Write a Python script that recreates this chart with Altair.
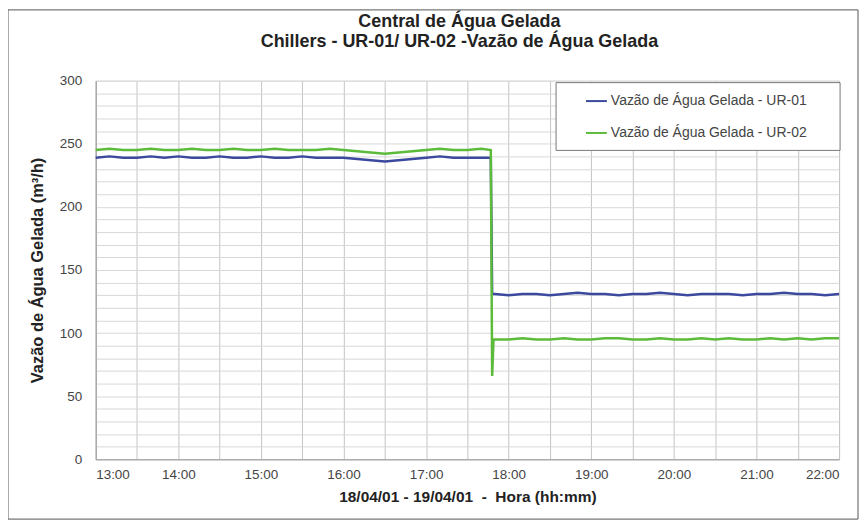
import altair as alt
import pandas as pd

# ---- data ----
times_before = ["13:00","13:10","13:20","13:30","13:40","13:50","14:00","14:10","14:20","14:30",
                "14:40","14:50","15:00","15:10","15:20","15:30","15:40","15:50","16:00","16:10",
                "16:20","16:30","16:40","16:50","17:00","17:10","17:20","17:30","17:40","17:47"]
ur01_before = [239,240,239,239,240,239,240,239,239,240,
               239,239,240,239,239,240,239,239,239,238,
               237,236,237,238,239,240,239,239,239,239]
ur02_before = [245,246,245,245,246,245,245,246,245,245,
               246,245,245,246,245,245,245,246,245,244,
               243,242,243,244,245,246,245,245,246,245]

times_drop = ["17:48","17:49"]
ur01_drop = [131,131]
ur02_drop = [66,95]

times_after = ["17:50","18:00","18:10","18:20","18:30","18:40","18:50","19:00","19:10","19:20",
               "19:30","19:40","19:50","20:00","20:10","20:20","20:30","20:40","20:50","21:00",
               "21:10","21:20","21:30","21:40","21:50","22:00"]
ur01_after = [131,130,131,131,130,131,132,131,131,130,
              131,131,132,131,130,131,131,131,130,131,
              131,132,131,131,130,131]
ur02_after = [95,95,96,95,95,96,95,95,96,96,
              95,95,96,95,95,96,95,96,95,95,
              96,95,96,95,96,96]

series_names = ["Vazão de Água Gelada - UR-01", "Vazão de Água Gelada - UR-02"]
series_colors = ["#3b4a9e", "#5dbb3c"]

title_lines = ["Central de Água Gelada", "Chillers - UR-01/ UR-02 -Vazão de Água Gelada"]
x_title = "18/04/01 - 19/04/01\u00a0\u00a0-\u00a0\u00a0Hora (hh:mm)"
y_title = "Vazão de Água Gelada (m³/h)"

def to_hours(t):
    h, m = t.split(":")
    return int(h) + int(m) / 60.0

times = times_before + times_drop + times_after
ur01 = ur01_before + ur01_drop + ur01_after
ur02 = ur02_before + ur02_drop + ur02_after

rows = []
for i, t in enumerate(times):
    rows.append({"hora": to_hours(t), "valor": ur01[i], "serie": series_names[0], "ordem": i})
for i, t in enumerate(times):
    rows.append({"hora": to_hours(t), "valor": ur02[i], "serie": series_names[1], "ordem": i})
df = pd.DataFrame(rows)

x_values = [13 + 0.5 * k for k in range(19)]
y_values = list(range(0, 301, 10))

font = "Liberation Sans"

one = pd.DataFrame({"a": [0]})

frame = alt.Chart(one).mark_rect(
    fill=None, stroke="#555555", strokeWidth=1
).encode(
    x=alt.value(-88), x2=alt.value(765),
    y=alt.value(-71), y2=alt.value(440)
)

legend_box = alt.Chart(one).mark_rect(
    fill="white", stroke="#777777", strokeWidth=1
).encode(
    x=alt.value(462), x2=alt.value(747),
    y=alt.value(2), y2=alt.value(70)
)

lines = alt.Chart(df).mark_line(strokeWidth=2.5, interpolate="linear").encode(
    x=alt.X("hora:Q",
            scale=alt.Scale(domain=[13, 22], nice=False, zero=False),
            axis=alt.Axis(values=x_values,
                          labelExpr="datum.value % 1 == 0 ? datum.value + ':00' : ''",
                          title=x_title,
                          titleBaseline="middle", titleY=37,
                          labelPadding=8, ticks=False,
                          grid=True, gridColor="#c4c4c4", gridWidth=1,
                          domainColor="#999999", labelColor="#444444",
                          labelFontSize=13.5, titleFontSize=15.5, titleFontWeight="bold",
                          labelFont=font, titleFont=font, titleColor="#222222")),
    y=alt.Y("valor:Q",
            scale=alt.Scale(domain=[0, 300], nice=False),
            axis=alt.Axis(values=y_values,
                          labelExpr="datum.value % 50 == 0 ? datum.value : ''",
                          title=y_title,
                          titlePadding=14,
                          labelPadding=14, ticks=False,
                          grid=True, gridColor="#d8d8d8", gridWidth=1,
                          domainColor="#999999", labelColor="#444444",
                          labelFontSize=13.5, titleFontSize=16.5, titleFontWeight="bold",
                          labelFont=font, titleFont=font, titleColor="#222222")),
    color=alt.Color("serie:N",
                    scale=alt.Scale(domain=series_names, range=series_colors),
                    legend=alt.Legend(title=None, orient="none", legendX=462, legendY=2,
                                      symbolType="stroke", symbolSize=440, symbolStrokeWidth=2,
                                      padding=7, symbolOffset=22, rowPadding=13, labelOffset=3,
                                      labelFontSize=14, labelColor="#444444", labelFont=font,
                                      labelLimit=400)),
    order="ordem:Q"
)

chart = alt.layer(frame, legend_box, lines).properties(
    width=746, height=380,
    title=alt.TitleParams(title_lines,
                          anchor="middle", dx=-8, fontSize=18, fontWeight="bold",
                          font=font, color="#222222", offset=-42, lineHeight=20),
    padding={"left": 88, "top": 72, "right": 20, "bottom": 60},
    autosize=alt.AutoSizeParams(type="none")
).configure_view(stroke="#999999").configure(background="white")

chart.save("out.html", embed_options={"renderer": "svg", "actions": False})
